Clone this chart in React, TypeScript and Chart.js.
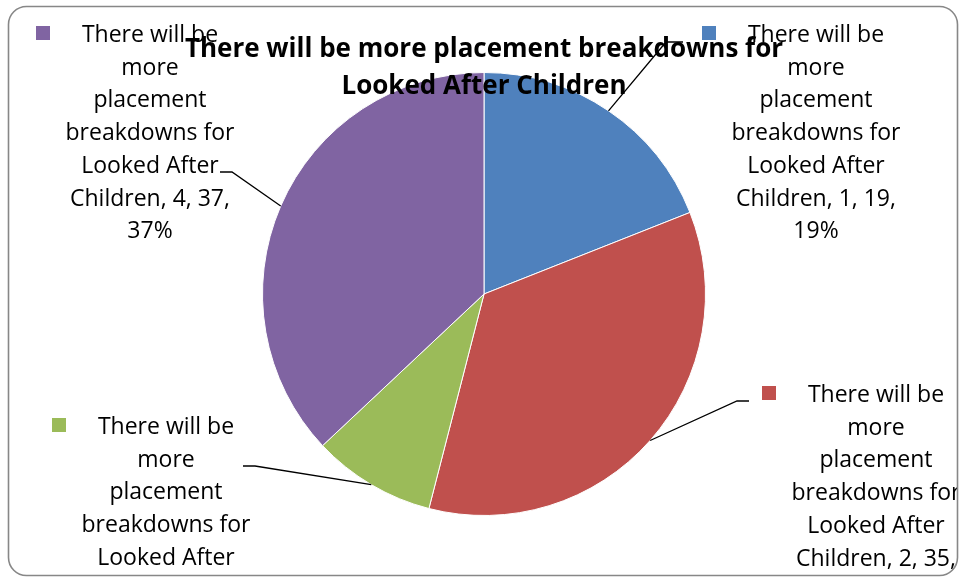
import React, { useEffect, useRef } from "react";
import { Chart, registerables } from "chart.js";

Chart.register(...registerables);

// ---- data ----
const seriesName = "There will be more placement breakdowns for Looked After Children";
const categories = ["1", "2", "3", "4"];
const values = [19, 35, 9, 37];
const percents = [19, 35, 9, 37];
const colors = ["#4F81BD", "#C0504D", "#9BBB59", "#8064A2"];

// ---- layout (label boxes and leader elbows) ----
const labelCenters = [
  { x: 816, y: 35.5 },
  { x: 876, y: 395.5 },
  { x: 166, y: 427.5 },
  { x: 150, y: 35.5 },
];
const elbows = [
  [ { x: 683, y: 42 }, { x: 666, y: 42 } ],
  [ { x: 749, y: 401 }, { x: 737, y: 401 } ],
  [ { x: 243, y: 466 }, { x: 255, y: 466 } ],
  [ { x: 220, y: 172 }, { x: 232, y: 172 } ],
];

const LABEL_FONT_SIZE = 23;
const LINE_H = 32.7;
const TITLE_FONT_SIZE = 26;

function wrap(ctx: CanvasRenderingContext2D, text: string, maxW: number): string[] {
  const words = text.split(" ");
  const lines: string[] = [];
  let cur = "";
  for (const w of words) {
    const test = cur ? cur + " " + w : w;
    if (cur && ctx.measureText(test).width > maxW) {
      lines.push(cur);
      cur = w;
    } else cur = test;
  }
  if (cur) lines.push(cur);
  return lines;
}

function roundRectPath(ctx: CanvasRenderingContext2D, x: number, y: number, w: number, h: number, r: number) {
  ctx.beginPath();
  ctx.moveTo(x + r, y);
  ctx.lineTo(x + w - r, y);
  ctx.arcTo(x + w, y, x + w, y + r, r);
  ctx.lineTo(x + w, y + h - r);
  ctx.arcTo(x + w, y + h, x + w - r, y + h, r);
  ctx.lineTo(x + r, y + h);
  ctx.arcTo(x, y + h, x, y + h - r, r);
  ctx.lineTo(x, y + r);
  ctx.arcTo(x, y, x + r, y, r);
  ctx.closePath();
}

const overlayPlugin = {
  id: "overlay",
  beforeDraw(chart: any) {
    const ctx = chart.ctx as CanvasRenderingContext2D;
    ctx.save();
    ctx.fillStyle = "#ffffff";
    ctx.fillRect(0, 0, chart.width, chart.height);
    ctx.restore();
  },
  afterDraw(chart: any) {
    const ctx = chart.ctx as CanvasRenderingContext2D;
    const meta = chart.getDatasetMeta(0);
    const fx = 8.5, fy = 6.5, fw = 949, fh = 569, fr = 18;

    ctx.save();
    roundRectPath(ctx, fx, fy, fw, fh, fr);
    ctx.clip();

    // leader lines
    ctx.strokeStyle = "#000000";
    ctx.lineWidth = 1.3;
    meta.data.forEach((arc: any, i: number) => {
      const p = arc.getProps(["x", "y", "startAngle", "endAngle", "outerRadius"], true);
      const mid = (p.startAngle + p.endAngle) / 2;
      const px = p.x + Math.cos(mid) * p.outerRadius;
      const py = p.y + Math.sin(mid) * p.outerRadius;
      const [a, b] = elbows[i];
      ctx.beginPath();
      ctx.moveTo(a.x, a.y);
      ctx.lineTo(b.x, b.y);
      ctx.lineTo(px, py);
      ctx.stroke();
    });

    // labels
    ctx.font = `${LABEL_FONT_SIZE}px "Open Sans", sans-serif`;
    ctx.textAlign = "center";
    ctx.textBaseline = "middle";
    categories.forEach((cat, i) => {
      const text = `${seriesName}, ${cat}, ${values[i]}, ${percents[i]}%`;
      const lines = wrap(ctx, text, LABEL_FONT_SIZE * 7.5);
      const c = labelCenters[i];
      ctx.fillStyle = colors[i];
      ctx.fillRect(c.x - 114, c.y - 9.5, 14, 14);
      ctx.fillStyle = "#000000";
      lines.forEach((ln, k) => ctx.fillText(ln, c.x, c.y + k * LINE_H));
    });

    // title
    ctx.font = `bold ${TITLE_FONT_SIZE}px "Open Sans", sans-serif`;
    ctx.fillStyle = "#000000";
    const tl = ["There will be more placement breakdowns for", "Looked After Children"];
    ctx.fillText(tl[0], 484, 50);
    ctx.fillText(tl[1], 484, 87);
    ctx.restore();

    // frame
    ctx.save();
    roundRectPath(ctx, fx, fy, fw, fh, fr);
    ctx.strokeStyle = "#878787";
    ctx.lineWidth = 1.6;
    ctx.stroke();
    ctx.restore();
  },
};

export default function App() {
  const ref = useRef<HTMLCanvasElement | null>(null);
  useEffect(() => {
    if (!ref.current) return;
    const chart = new Chart(ref.current, {
      type: "pie",
      data: {
        labels: categories,
        datasets: [
          {
            label: seriesName,
            data: values,
            backgroundColor: colors,
            borderColor: "#ffffff",
            borderWidth: 1,
          },
        ],
      },
      options: {
        responsive: false,
        animation: false,
        layout: { padding: { top: 72, bottom: 61, left: 8, right: 0 } },
        plugins: {
          legend: { display: false },
          title: { display: false },
          tooltip: { enabled: false },
        },
      },
      plugins: [overlayPlugin],
    });
    return () => chart.destroy();
  }, []);
  return (
    <div style={{ position: "absolute", left: 0, top: 0, width: 960, height: 577 }}>
      <canvas ref={ref} width={960} height={577} style={{ display: "block" }} />
    </div>
  );
}
